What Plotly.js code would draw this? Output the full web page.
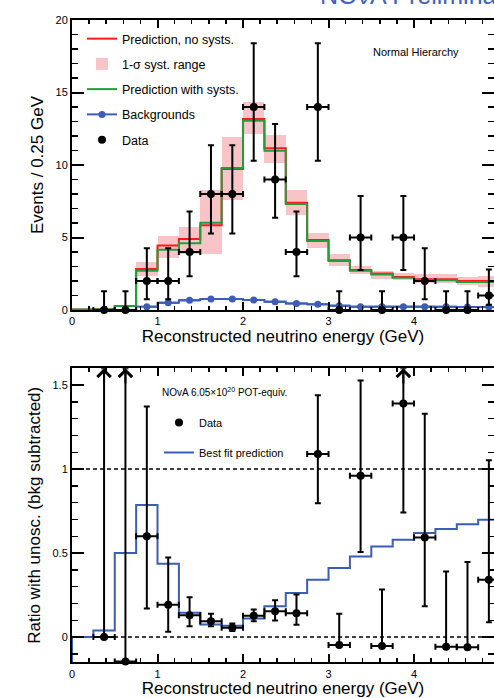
<!DOCTYPE html>
<html>
<head>
<meta charset="utf-8">
<script src="https://cdn.plot.ly/plotly-3.0.1.min.js"></script>
<style>html,body{margin:0;padding:0;overflow:hidden;background:#fff}</style>
</head>
<body>
<div id="chart" style="width:494px;height:698px"></div>
<script>
// ---------- data ----------
const binEdges = [0,0.25,0.5,0.75,1,1.25,1.5,1.75,2,2.25,2.5,2.75,3,3.25,3.5,3.75,4,4.25,4.5,4.75,5];
const predNoSyst = [0.03,0.05,0.28,2.83,4.44,4.90,5.84,9.72,13.17,11.15,7.40,4.83,3.43,2.76,2.51,2.28,2.12,2.12,2.00,2.00];
const predSyst   = [0.03,0.05,0.28,2.71,4.16,4.60,6.02,9.79,13.06,10.99,7.31,4.76,3.38,2.71,2.44,2.23,2.05,2.05,1.93,1.93];
const systLow    = [0.03,0.05,0.25,2.37,3.59,3.86,3.84,7.59,12.14,10.11,6.55,4.25,3.06,2.46,2.14,2.07,1.89,1.89,1.70,1.62];
const systHigh   = [0.03,0.05,0.32,3.31,5.10,5.75,8.28,11.91,14.34,12.07,8.28,5.33,3.84,3.06,2.69,2.57,2.48,2.48,2.30,2.37];
const binCenters = [0.125,0.375,0.625,0.875,1.125,1.375,1.625,1.875,2.125,2.375,2.625,2.875,3.125,3.375,3.625,3.875,4.125,4.375,4.625,4.875];

const bkgEnergy = [0.875,1.125,1.375,1.625,1.875,2.125,2.375,2.625,2.875,3.125,3.375,3.625,3.875,4.125,4.375,4.625,4.875];
const bkgEvents = [0.23,0.50,0.67,0.76,0.76,0.69,0.57,0.45,0.39,0.30,0.23,0.23,0.23,0.23,0.22,0.20,0.20];

const dataEnergy = [0.375,0.625,0.875,1.125,1.375,1.625,1.875,2.125,2.375,2.625,2.875,3.125,3.375,3.625,3.875,4.125,4.375,4.625,4.875];
const dataEvents = [0,0,2,2,4,8,8,14,9,4,14,0,5,0,5,2,0,0,1];
const dataLo     = [0,0,0.74,0.74,2.33,5.28,5.28,10.3,6.37,2.33,10.3,0,2.75,0,2.75,0.74,0,0,0.37];
const dataHi     = [1.29,1.29,4.25,4.25,6.80,11.36,11.36,18.4,12.83,6.80,18.4,1.29,7.86,1.29,7.86,4.25,1.29,1.29,2.80];

const bestFit = [0,0.04,0.50,0.787,0.437,0.145,0.075,0.068,0.111,0.184,0.263,0.342,0.411,0.48,0.54,0.579,0.619,0.644,0.672,0.698];
const ratio   = [0,-0.145,0.60,0.192,0.13,0.095,0.056,0.127,0.154,0.142,1.09,-0.047,0.96,-0.053,1.39,0.593,-0.057,-0.06,0.342];
const ratioLo = [0,-0.145,0.17,0.032,0.065,0.065,0.036,0.095,0.099,0.073,0.797,-0.047,0.506,-0.053,0.741,0.184,-0.057,-0.06,0.089];
const ratioHi = [3,3,1.373,0.474,0.237,0.139,0.081,0.164,0.219,0.253,1.44,0.139,1.528,0.283,3,1.33,0.391,0.447,1.053];

// ---------- styling constants ----------
const FONT = 'Liberation Sans, Arial, Helvetica, sans-serif';
const X_MAX = 4.935;
const Y1 = [0, 20];
const Y2 = [-0.15, 1.6];
const RED = '#ff1a1a', GREEN = '#1f9e3c', PINK = '#f9c4c7', BLUE = '#3b5db8';

function stepXY(edges, vals, startY) {
  const x = [], y = [];
  if (startY !== undefined) { x.push(edges[0]); y.push(startY); }
  for (let i = 0; i < vals.length; i++) { x.push(edges[i]); y.push(vals[i]); }
  x.push(edges[edges.length - 1]); y.push(vals[vals.length - 1]);
  return {x, y};
}

const traces = [];
// syst band
traces.push({
  type: 'bar', x: binCenters, base: systLow,
  y: systHigh.map((h, i) => h - systLow[i]),
  width: 0.25, marker: {color: PINK, line: {width: 0}},
  name: '1-σ syst. range', legendgroup: 'b', legendrank: 2,
  xaxis: 'x', yaxis: 'y', hoverinfo: 'skip'
});
const sRed = stepXY(binEdges, predNoSyst);
traces.push({type: 'scatter', mode: 'lines', x: sRed.x, y: sRed.y, line: {shape: 'hv', color: RED, width: 2},
  name: 'Prediction, no systs.', legendgroup: 'a', legendrank: 1, xaxis: 'x', yaxis: 'y'});
const sGreen = stepXY(binEdges, predSyst);
traces.push({type: 'scatter', mode: 'lines', x: sGreen.x, y: sGreen.y, line: {shape: 'hv', color: GREEN, width: 2},
  name: 'Prediction with systs.', legendgroup: 'c', legendrank: 3, xaxis: 'x', yaxis: 'y'});
traces.push({type: 'scatter', mode: 'lines+markers', x: bkgEnergy, y: bkgEvents,
  line: {shape: 'hvh', color: BLUE, width: 2}, marker: {color: BLUE, size: 7},
  error_x: {type: 'constant', value: 0.125, color: BLUE, thickness: 2, width: 0},
  name: 'Backgrounds', legendgroup: 'd', legendrank: 4, xaxis: 'x', yaxis: 'y', cliponaxis: false});
traces.push({type: 'scatter', mode: 'markers', x: dataEnergy, y: dataEvents,
  marker: {color: '#000', size: 8},
  error_y: {type: 'data', symmetric: false, array: dataHi.map((h, i) => h - dataEvents[i]),
    arrayminus: dataEvents.map((v, i) => v - dataLo[i]), color: '#000', thickness: 2, width: 3},
  error_x: {type: 'constant', value: 0.125, color: '#000', thickness: 2, width: 3},
  name: 'Data', legendgroup: 'e', legendrank: 5, xaxis: 'x', yaxis: 'y', cliponaxis: false});

// bottom panel
const sBlue = stepXY(binEdges, bestFit, Y2[0]);
traces.push({type: 'scatter', mode: 'lines', x: sBlue.x, y: sBlue.y, line: {shape: 'hv', color: BLUE, width: 2},
  name: 'Best fit prediction', legend: 'legend2', legendgroup: 'g', legendrank: 2, xaxis: 'x2', yaxis: 'y2'});
traces.push({type: 'scatter', mode: 'markers', x: dataEnergy, y: ratio,
  marker: {color: '#000', size: 8},
  error_y: {type: 'data', symmetric: false,
    array: ratioHi.map((h, i) => Math.min(h, Y2[1]) - ratio[i]),
    arrayminus: ratio.map((v, i) => v - ratioLo[i]), color: '#000', thickness: 2, width: 3},
  error_x: {type: 'constant', value: 0.125, color: '#000', thickness: 2, width: 3},
  name: 'Data', legend: 'legend2', legendgroup: 'f', legendrank: 1, xaxis: 'x2', yaxis: 'y2', cliponaxis: false});

// arrows for off-scale upper errors
const annotations = [];
ratioHi.forEach((h, i) => {
  if (h > Y2[1]) {
    annotations.push({xref: 'x2', yref: 'y2', axref: 'x2', ayref: 'y2',
      x: dataEnergy[i], y: Y2[1], ax: dataEnergy[i], ay: Y2[1] - 0.1,
      showarrow: true, arrowhead: 4, arrowsize: 1.3, arrowwidth: 2, arrowcolor: '#000', text: ''});
  }
});
annotations.push({xref: 'paper', yref: 'paper', x: 0.815, y: 1 - 52/698, xanchor: 'center', yanchor: 'middle',
  text: 'Normal Hierarchy', showarrow: false, font: {family: FONT, size: 11, color: '#000'}});
annotations.push({xref: 'paper', yref: 'paper', x: (160-72)/422, y: 1 - 392/698, xanchor: 'left', yanchor: 'middle',
  text: 'NOvA 6.05×10<sup>20</sup> POT-equiv.', showarrow: false, font: {family: FONT, size: 10, color: '#000'}});
annotations.push({xref: 'paper', yref: 'paper', x: (318-72)/422, y: 1 + 5/698, xanchor: 'left', yanchor: 'middle',
  text: 'NOνA Preliminary', showarrow: false, font: {family: FONT, size: 25, color: '#3d62c6'}});

function xAxis(anchor, titleText) {
  return {anchor: anchor, range: [0, X_MAX], showgrid: false, zeroline: false,
    showline: true, linecolor: '#000', linewidth: 2, mirror: 'ticks',
    ticks: 'inside', ticklen: 8, tickwidth: 2, tickcolor: '#000', dtick: 1, tick0: 0,
    minor: {dtick: 0.2, ticks: 'inside', ticklen: 4, tickwidth: 1.5, tickcolor: '#000'},
    tickfont: {family: FONT, size: 11, color: '#000'},
    title: {text: titleText, font: {family: FONT, size: 17, color: '#000'}, standoff: 4}};
}
function yAxis(anchor, domain, range, dtick, minor, titleText) {
  return {anchor: anchor, domain: domain, range: range, showgrid: false, zeroline: false,
    showline: true, linecolor: '#000', linewidth: 2, mirror: 'ticks',
    ticks: 'inside', ticklen: 12, tickwidth: 2, tickcolor: '#000', dtick: dtick, tick0: 0,
    minor: {dtick: minor, ticks: 'inside', ticklen: 6, tickwidth: 1.5, tickcolor: '#000'},
    tickfont: {family: FONT, size: 11, color: '#000'},
    title: {text: titleText, font: {family: FONT, size: 17, color: '#000'}, standoff: 8}};
}

const layout = {
  width: 494, height: 698,
  margin: {l: 72, r: 0, t: 0, b: 0},
  paper_bgcolor: '#fff', plot_bgcolor: 'rgba(0,0,0,0)',
  font: {family: FONT, color: '#000'},
  barmode: 'overlay', bargap: 0,
  xaxis: xAxis('y', 'Reconstructed neutrino energy (GeV)'),
  yaxis: yAxis('x', [1 - 310/698, 1 - 20/698], Y1, 5, 1, 'Events / 0.25 GeV'),
  xaxis2: xAxis('y2', 'Reconstructed neutrino energy (GeV)'),
  yaxis2: yAxis('x2', [1 - 662.3/698, 1 - 368.3/698], Y2, 0.5, 0.1, 'Ratio with unosc. (bkg subtracted)'),
  showlegend: true,
  legend: {x: (82-72)/422, y: 1 - 24/698, xanchor: 'left', yanchor: 'top', bgcolor: 'rgba(0,0,0,0)',
    traceorder: 'grouped', tracegroupgap: 6, font: {family: FONT, size: 12.5, color: '#000'}},
  legend2: {x: (159-72)/422, y: 1 - 408/698, xanchor: 'left', yanchor: 'top', bgcolor: 'rgba(0,0,0,0)',
    traceorder: 'grouped', tracegroupgap: 11, font: {family: FONT, size: 11, color: '#000'}},
  shapes: [
    {type: 'line', xref: 'x2 domain', yref: 'y2', x0: 0, x1: 1, y0: 1, y1: 1, line: {color: '#000', width: 1.5, dash: '4px,3px'}, layer: 'below'},
    {type: 'line', xref: 'x2 domain', yref: 'y2', x0: 0, x1: 1, y0: 0, y1: 0, line: {color: '#000', width: 1.5, dash: '4px,3px'}, layer: 'below'}
  ],
  annotations: annotations
};

Plotly.newPlot('chart', traces, layout, {displayModeBar: false, staticPlot: true});
</script>
</body>
</html>
